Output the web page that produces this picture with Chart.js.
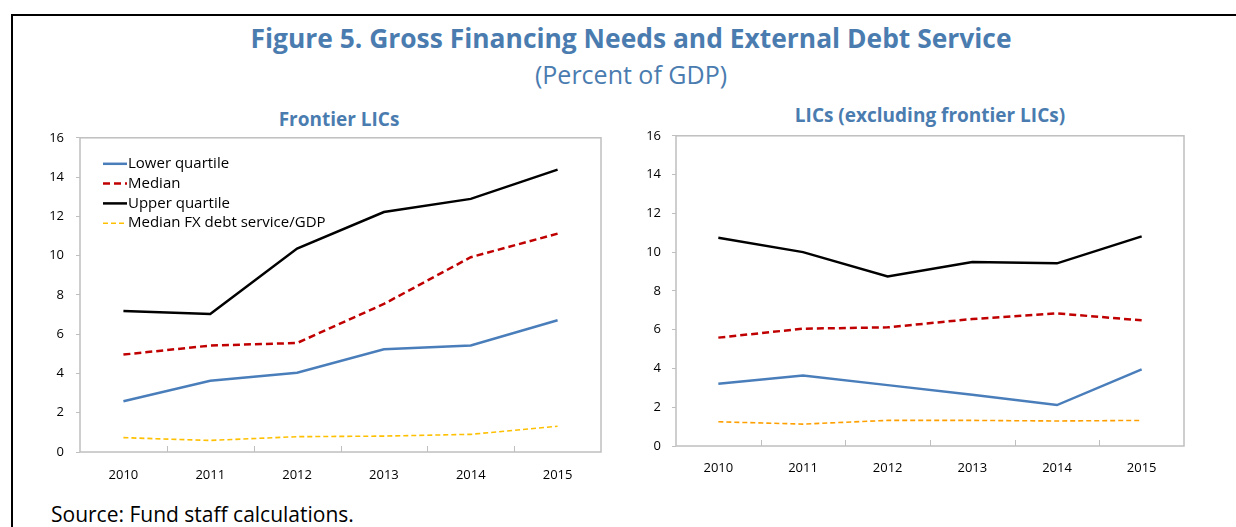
<!DOCTYPE html>
<html>
<head>
<meta charset="utf-8">
<script src="https://cdn.jsdelivr.net/npm/chart.js@4.4.1/dist/chart.umd.min.js"></script>
<style>
  body { margin:0; background:#fff; width:1236px; height:527px; overflow:hidden; position:relative; font-family:"Open Sans", sans-serif; }
  #frame { position:absolute; left:11px; top:14px; width:1240px; height:600px; border-left:2px solid #000; border-top:2px solid #000; }
  .txt { position:absolute; white-space:nowrap; transform:translate(-50%,-50%); color:#4A7CB0; }
  #title { left:631px; top:38px; font-size:26.4px; font-weight:bold; }
  #subtitle { left:631px; top:74px; font-size:25px; }
  .panel { font-size:19px; font-weight:bold; }
  #source { position:absolute; left:51px; top:500px; font-size:21px; color:#000; white-space:nowrap; }
  canvas { position:absolute; }
</style>
</head>
<body>
<div id="frame"></div>
<div id="title" class="txt">Figure 5. Gross Financing Needs and External Debt Service</div>
<div id="subtitle" class="txt">(Percent of GDP)</div>
<div class="txt panel" style="left:339px;top:119px;">Frontier LICs</div>
<div class="txt panel" style="left:930px;top:115px;">LICs (excluding frontier LICs)</div>
<canvas id="chart1" width="600" height="372" style="left:20px;top:118px;"></canvas>
<canvas id="chart2" width="590" height="368" style="left:620px;top:117px;"></canvas>
<div id="source">Source: Fund staff calculations.</div>
<script>
// data
const years = ["2010", "2011", "2012", "2013", "2014", "2015"];
const yTicks = [0, 2, 4, 6, 8, 10, 12, 14, 16];
const seriesNames = ["Lower quartile", "Median", "Upper quartile", "Median FX debt service/GDP"];

const frontierLower  = [2.58, 3.63, 4.04, 5.23, 5.42, 6.71];
const frontierMedian = [4.96, 5.42, 5.55, 7.54, 9.92, 11.12];
const frontierUpper  = [7.18, 7.03, 10.36, 12.22, 12.89, 14.38];
const frontierFx     = [0.73, 0.59, 0.78, 0.81, 0.90, 1.31];

const licLower  = [3.21, 3.64, 3.14, 2.64, 2.11, 3.95];
const licMedian = [5.59, 6.05, 6.12, 6.55, 6.84, 6.48];
const licUpper  = [10.74, 10.00, 8.75, 9.49, 9.42, 10.81];
const licFx     = [1.25, 1.13, 1.32, 1.32, 1.29, 1.32];

const FONT = '"Open Sans", sans-serif';
const GREY = '#BFBFBF';

// plot frame + small inward ticks between categories on the x axis
const framePlugin = {
    id: 'frame',
    afterDraw(chart) {
	const a = chart.chartArea;
	const ctx = chart.ctx;
	const xs = chart.scales.x;
	ctx.save();
	ctx.strokeStyle = GREY;
	ctx.lineWidth = 1.5;
	ctx.strokeRect(a.left, a.top, a.right - a.left, a.bottom - a.top);
	ctx.lineWidth = 1;
	for (let i = 0; i < years.length - 1; i++) {
	    let x = Math.round((xs.getPixelForValue(i) + xs.getPixelForValue(i + 1)) / 2) + 0.5;
	    ctx.beginPath();
	    ctx.moveTo(x, a.bottom);
	    ctx.lineTo(x, a.bottom - 6);
	    ctx.stroke();
	}
	ctx.restore();
    }
};

// legend inside the plot, only on the first chart
const legendPlugin = {
    id: 'insideLegend',
    afterDraw(chart, args, opts) {
	if (!opts.show) return;
	const a = chart.chartArea;
	const ctx = chart.ctx;
	ctx.save();
	ctx.font = '15px ' + FONT;
	ctx.textBaseline = 'middle';
	chart.data.datasets.forEach(function(ds, i) {
	    let y = a.top + 26 + i * 19.8;
	    let x0 = a.left + 23;
	    ctx.strokeStyle = ds.borderColor;
	    ctx.lineWidth = ds.borderWidth;
	    ctx.setLineDash(ds.borderDash || []);
	    ctx.beginPath();
	    ctx.moveTo(x0, y);
	    ctx.lineTo(x0 + 24, y);
	    ctx.stroke();
	    ctx.setLineDash([]);
	    ctx.fillStyle = '#000';
	    ctx.fillText(ds.label, x0 + 25, y);
	});
	ctx.restore();
    }
};

function makeDatasets(lower, median, upper, fx, fxColor) {
    return [
	{ label: seriesNames[0], data: lower, borderColor: '#4A7EBB', borderWidth: 2.5 },
	{ label: seriesNames[1], data: median, borderColor: '#C00000', borderWidth: 2.5, borderDash: [7, 4] },
	{ label: seriesNames[2], data: upper, borderColor: '#000000', borderWidth: 2.5 },
	{ label: seriesNames[3], data: fx, borderColor: fxColor, borderWidth: 1.6, borderDash: [5, 3] }
    ];
}

function drawChart(node, datasets, yWidth, xHeight, yPad, xPad, rightPad, showLegend) {
    new Chart(document.getElementById(node), {
	type: 'line',
	data: { labels: years, datasets: datasets },
	options: {
	    responsive: false,
	    animation: false,
	    devicePixelRatio: 1,
	    layout: { padding: { top: 0, right: rightPad, left: 0, bottom: 0 } },
	    elements: { point: { radius: 0 }, line: { tension: 0, borderCapStyle: 'butt' } },
	    plugins: {
		legend: { display: false },
		tooltip: { enabled: false },
		insideLegend: { show: showLegend }
	    },
	    scales: {
		x: {
		    offset: true,
		    grid: { display: false, drawTicks: false },
		    border: { display: false },
		    ticks: { color: '#000', font: { family: FONT, size: 13 }, padding: xPad, maxRotation: 0 },
		    afterFit(s) { s.height = xHeight; }
		},
		y: {
		    min: yTicks[0],
		    max: yTicks[yTicks.length - 1],
		    afterBuildTicks(s) { s.ticks = yTicks.map(v => ({ value: v })); },
		    grid: { drawOnChartArea: false, drawTicks: true, tickLength: 4, color: GREY },
		    border: { display: false },
		    ticks: { color: '#000', font: { family: FONT, size: 13 }, padding: yPad },
		    afterFit(s) { s.width = yWidth; }
		}
	    }
	},
	plugins: [framePlugin, legendPlugin]
    });
}

drawChart("chart1", makeDatasets(frontierLower, frontierMedian, frontierUpper, frontierFx, '#FFC000'),
	  60, 38, 12, 15, 19, true);
drawChart("chart2", makeDatasets(licLower, licMedian, licUpper, licFx, '#FFA000'),
	  56, 39, 11, 14, 26, false);
</script>
</body>
</html>
